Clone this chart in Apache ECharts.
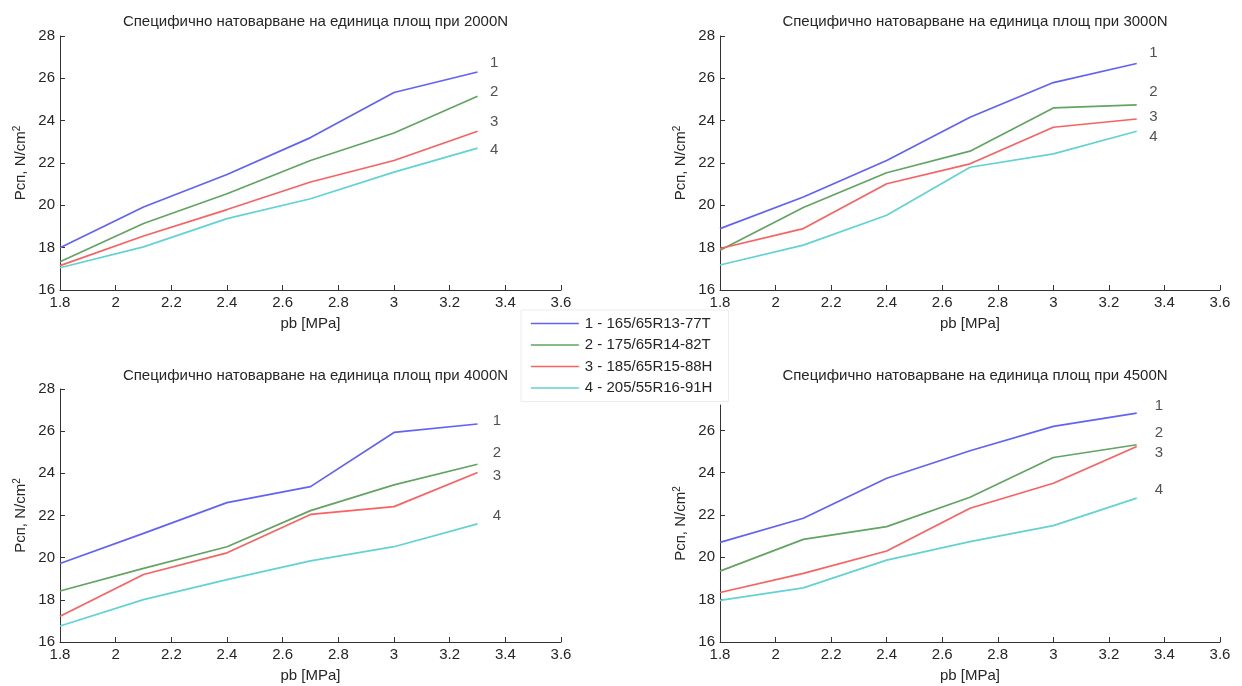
<!DOCTYPE html>
<html><head><meta charset="utf-8">
<script src="https://cdn.jsdelivr.net/npm/echarts@6/dist/echarts.min.js"></script>
<style>html,body{margin:0;padding:0;background:#fff}#c{width:1242px;height:686px}</style>
</head><body><div id="c"></div>
<script>
// ---- data ----
const pressure = [1.8, 2.1, 2.4, 2.7, 3.0, 3.3];
const tyreNames = ['1 - 165/65R13-77T', '2 - 175/65R14-82T', '3 - 185/65R15-88H', '4 - 205/55R16-91H'];
const curveTags = ['1', '2', '3', '4'];
const panelTitles = [
  'Специфично натоварване на единица площ при 2000N',
  'Специфично натоварване на единица площ при 3000N',
  'Специфично натоварване на единица площ при 4000N',
  'Специфично натоварване на единица площ при 4500N'
];
// 2000N
const p2000_t1 = [18.0, 19.92, 21.46, 23.2, 25.33, 26.3];
const p2000_t2 = [17.33, 19.14, 20.55, 22.12, 23.42, 25.15];
const p2000_t3 = [17.15, 18.55, 19.8, 21.1, 22.12, 23.5];
const p2000_t4 = [17.05, 18.04, 19.37, 20.31, 21.57, 22.7];
// 3000N
const p3000_t1 = [18.9, 20.39, 22.12, 24.16, 25.8, 26.7];
const p3000_t2 = [17.88, 19.9, 21.54, 22.56, 24.6, 24.75];
const p3000_t3 = [17.96, 18.9, 21.02, 21.96, 23.69, 24.08];
const p3000_t4 = [17.18, 18.12, 19.53, 21.8, 22.43, 23.5];
// 4000N
const p4000_t1 = [19.72, 21.15, 22.61, 23.37, 25.94, 26.34];
const p4000_t2 = [18.42, 19.49, 20.52, 22.23, 23.45, 24.43];
const p4000_t3 = [17.22, 19.2, 20.23, 22.05, 22.42, 24.04];
const p4000_t4 = [16.76, 18.01, 18.96, 19.85, 20.52, 21.6];
// 4500N
const p4500_t1 = [20.71, 21.85, 23.74, 25.04, 26.19, 26.82];
const p4500_t2 = [19.35, 20.85, 21.45, 22.84, 24.72, 25.32];
const p4500_t3 = [18.34, 19.24, 20.3, 22.32, 23.5, 25.24];
const p4500_t4 = [17.97, 18.56, 19.87, 20.74, 21.5, 22.8];
// curve tag annotation positions (data units)
const tagX = [3.36, 3.36, 3.37, 3.38];
const tagY2000 = [26.72, 25.35, 23.94, 22.61];
const tagY3000 = [27.2, 25.35, 24.17, 23.23];
const tagY4000 = [26.48, 24.97, 23.87, 21.98];
const tagY4500 = [27.14, 25.9, 24.96, 23.2];
const yTicks = [16, 18, 20, 22, 24, 26, 28];
const yTicks4500 = [16, 18, 20, 22, 24, 26];

// ---- style ----
const colors = ['#6262f8', '#62a462', '#fa6262', '#62d2d2'];
const txt = '#262626';
const axisCol = '#333';
const FONT = '"Liberation Sans", Arial, sans-serif';
const FS = 15;

const panels = [
  {data: [p2000_t1, p2000_t2, p2000_t3, p2000_t4], tagY: tagY2000, max: 28, ticks: yTicks,
   grid: {left: 60, top: 36, width: 501, height: 254}},
  {data: [p3000_t1, p3000_t2, p3000_t3, p3000_t4], tagY: tagY3000, max: 28, ticks: yTicks,
   grid: {left: 720, top: 36, width: 500, height: 254}},
  {data: [p4000_t1, p4000_t2, p4000_t3, p4000_t4], tagY: tagY4000, max: 28, ticks: yTicks,
   grid: {left: 60, top: 389, width: 501, height: 253}},
  {data: [p4500_t1, p4500_t2, p4500_t3, p4500_t4], tagY: tagY4500, max: 27.2, ticks: yTicks4500,
   grid: {left: 720, top: 405, width: 500, height: 237}}
];

const grids = [], xAxes = [], yAxes = [], series = [], titles = [];
panels.forEach((p, i) => {
  grids.push(Object.assign({containLabel: false}, p.grid));
  titles.push({
    text: panelTitles[i],
    left: p.grid.left + p.grid.width / 2,
    top: i < 2 ? 9 : 363,
    textAlign: 'center',
    textStyle: {fontFamily: FONT, fontSize: 15, fontWeight: 'normal', color: txt}
  });
  xAxes.push({
    gridIndex: i, type: 'value', min: 1.8, max: 3.6, interval: 0.2,
    name: 'pb [MPa]', nameLocation: 'middle', nameGap: 26,
    nameTextStyle: {fontFamily: FONT, fontSize: FS, color: txt},
    axisLine: {show: true, onZero: false, lineStyle: {color: axisCol, width: 1}},
    axisTick: {show: true, inside: true, length: 5, lineStyle: {color: axisCol}},
    axisLabel: {fontFamily: FONT, fontSize: FS, color: txt, margin: 5,
      formatter: v => String(+v.toFixed(1))},
    splitLine: {show: false}
  });
  yAxes.push({
    gridIndex: i, type: 'value', min: 16, max: p.max, interval: 2,
    name: 'Pсп, N/cm{sup|2}', nameLocation: 'middle', nameGap: 30, nameRotate: 90,
    nameTextStyle: {fontFamily: FONT, fontSize: FS, color: txt,
      rich: {sup: {fontFamily: FONT, fontSize: 10, color: txt, verticalAlign: 'top', padding: [0, 0, 8, 0]}}},
    axisLine: {show: true, onZero: false, lineStyle: {color: axisCol, width: 1}},
    axisTick: {show: true, inside: true, length: 5, lineStyle: {color: axisCol}, customValues: p.ticks},
    axisLabel: {fontFamily: FONT, fontSize: FS, color: txt, margin: 5, customValues: p.ticks},
    splitLine: {show: false}
  });
  p.data.forEach((vals, k) => {
    series.push({
      name: tyreNames[k], type: 'line', xAxisIndex: i, yAxisIndex: i,
      data: pressure.map((x, j) => [x, vals[j]]),
      symbol: 'none', lineStyle: {color: colors[k], width: 1.7}, itemStyle: {color: colors[k]},
      animation: false, z: 3
    });
  });
  series.push({
    type: 'scatter', xAxisIndex: i, yAxisIndex: i, symbolSize: 0, silent: true,
    data: curveTags.map((t, k) => ({value: [tagX[i], p.tagY[k]], name: t})),
    label: {show: true, position: 'inside', formatter: '{b}', fontFamily: FONT, fontSize: FS, color: txt},
    animation: false
  });
});

const chart = echarts.init(document.getElementById('c'), null, {renderer: 'canvas'});
chart.setOption({
  backgroundColor: '#fff',
  animation: false,
  title: titles,
  grid: grids, xAxis: xAxes, yAxis: yAxes, series: series,
  legend: {
    data: tyreNames, orient: 'vertical', left: 521, top: 310,
    itemWidth: 48, itemHeight: 14, itemGap: 6.5, padding: [6, 16, 6, 9],
    backgroundColor: '#fff', borderColor: '#ececec', borderWidth: 1,
    itemStyle: {opacity: 0},
    lineStyle: {width: 1.7},
    textStyle: {fontFamily: FONT, fontSize: FS, color: txt, padding: [0, 0, 0, 1]},
    selectedMode: false
  }
});
</script></body></html>
